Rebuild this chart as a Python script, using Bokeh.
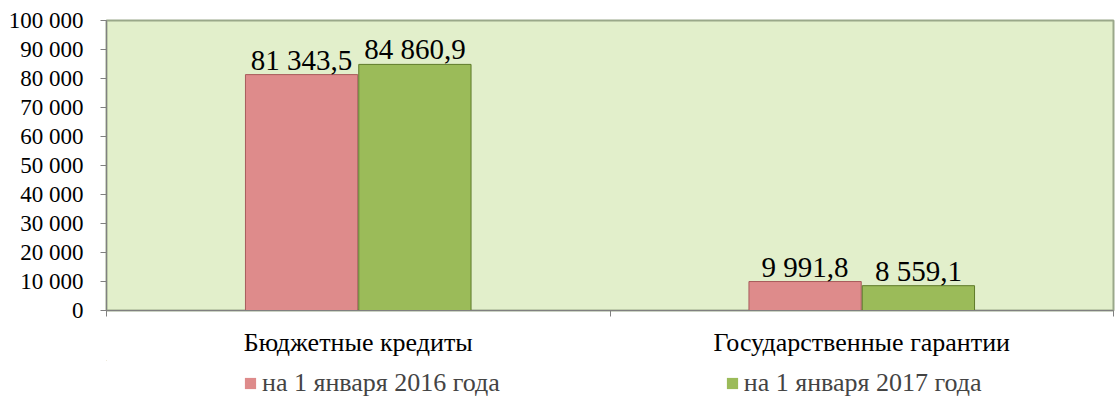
from bokeh.plotting import figure
from bokeh.layouts import column
from bokeh.models import ColumnDataSource, FixedTicker, LabelSet, Legend, LegendItem, Range1d
from bokeh.embed import file_html
from bokeh.resources import INLINE

categories = ["Бюджетные кредиты", "Государственные гарантии"]
series_names = ["на 1 января 2016 года", "на 1 января 2017 года"]
values_2016 = [81343.5, 9991.8]
values_2017 = [84860.9, 8559.1]
y_ticks = [0, 10000, 20000, 30000, 40000, 50000, 60000, 70000, 80000, 90000, 100000]
y_tick_labels = ["0", "10 000", "20 000", "30 000", "40 000", "50 000", "60 000",
                 "70 000", "80 000", "90 000", "100 000"]

FONT = "Liberation Serif"
PINK = "#DE8B8B"
PINK_EDGE = "#A85C5C"
GREEN = "#9BBB59"
GREEN_EDGE = "#5F7A2A"


def fmt(v):
    return f"{v:,.1f}".replace(",", " ").replace(".", ",")


centers = [i + 0.5 for i in range(len(categories))]
bw = 0.223
off = 0.1125

src1 = ColumnDataSource(dict(x=[c - off for c in centers], top=values_2016,
                             lab=[fmt(v) for v in values_2016]))
src2 = ColumnDataSource(dict(x=[c + off for c in centers], top=values_2017,
                             lab=[fmt(v) for v in values_2017]))

p = figure(frame_width=1007, frame_height=290, output_backend="svg", toolbar_location=None,
           x_range=Range1d(0, len(categories)), y_range=Range1d(0, 100000),
           min_border_left=106, min_border_right=2, min_border_top=20, min_border_bottom=50)

p.background_fill_color = "#E2EFCB"
p.border_fill_color = "white"
p.outline_line_color = "#9AA88A"
p.outline_line_width = 2
p.xgrid.visible = False
p.ygrid.visible = False

r1 = p.vbar(x="x", top="top", width=bw, source=src1, fill_color=PINK,
            line_color=PINK_EDGE, line_width=1)
r2 = p.vbar(x="x", top="top", width=bw, source=src2, fill_color=GREEN,
            line_color=GREEN_EDGE, line_width=1)

for s in (src1, src2):
    p.add_layout(LabelSet(x="x", y="top", text="lab", source=s, text_align="center",
                          text_baseline="bottom", y_offset=-1, text_font=FONT,
                          text_font_size="29px", text_color="black"))

# y axis
p.yaxis.ticker = FixedTicker(ticks=y_ticks)
p.yaxis.major_label_overrides = {t: l for t, l in zip(y_ticks, y_tick_labels)}
p.yaxis.major_label_text_font = FONT
p.yaxis.major_label_text_font_size = "23px"
p.yaxis.major_label_text_color = "black"
p.yaxis.axis_line_color = "#808080"
p.yaxis.major_tick_line_color = "#808080"
p.yaxis.major_tick_out = 6
p.yaxis.major_tick_in = 0
p.yaxis.minor_tick_line_color = None
p.yaxis.major_label_standoff = 17

# x axis
p.xaxis.ticker = FixedTicker(ticks=centers, minor_ticks=list(range(len(categories) + 1)))
p.xaxis.major_label_overrides = {c: n for c, n in zip(centers, categories)}
p.xaxis.major_label_text_font = FONT
p.xaxis.major_label_text_font_size = "26px"
p.xaxis.major_label_text_color = "black"
p.xaxis.axis_line_color = "#808080"
p.xaxis.major_tick_line_color = None
p.xaxis.minor_tick_line_color = "#808080"
p.xaxis.minor_tick_out = 6
p.xaxis.minor_tick_in = 0
p.xaxis.major_label_standoff = 11

# legend strip below the chart (its proxy bars fall outside its own ranges)
p2 = figure(width=1115, height=50, output_backend="svg", toolbar_location=None,
            x_range=Range1d(10, 11), y_range=Range1d(-2, -1),
            x_axis_type=None, y_axis_type=None, min_border=0, outline_line_color=None)
p2.xgrid.visible = False
p2.ygrid.visible = False
l1 = p2.vbar(x="x", top="top", width=bw, source=src1, fill_color=PINK, line_color=None)
l2 = p2.vbar(x="x", top="top", width=bw, source=src2, fill_color=GREEN, line_color=None)
legend = Legend(items=[LegendItem(label=series_names[0], renderers=[l1]),
                       LegendItem(label=series_names[1], renderers=[l2])],
                orientation="horizontal", location=(137, 12), spacing=225,
                glyph_width=14, glyph_height=14, label_standoff=5,
                label_text_font=FONT, label_text_font_size="26px",
                border_line_color=None, background_fill_alpha=0,
                margin=0, padding=4)
p2.add_layout(legend)

open("out.html", "w").write(file_html(column(p, p2, spacing=0), INLINE))
